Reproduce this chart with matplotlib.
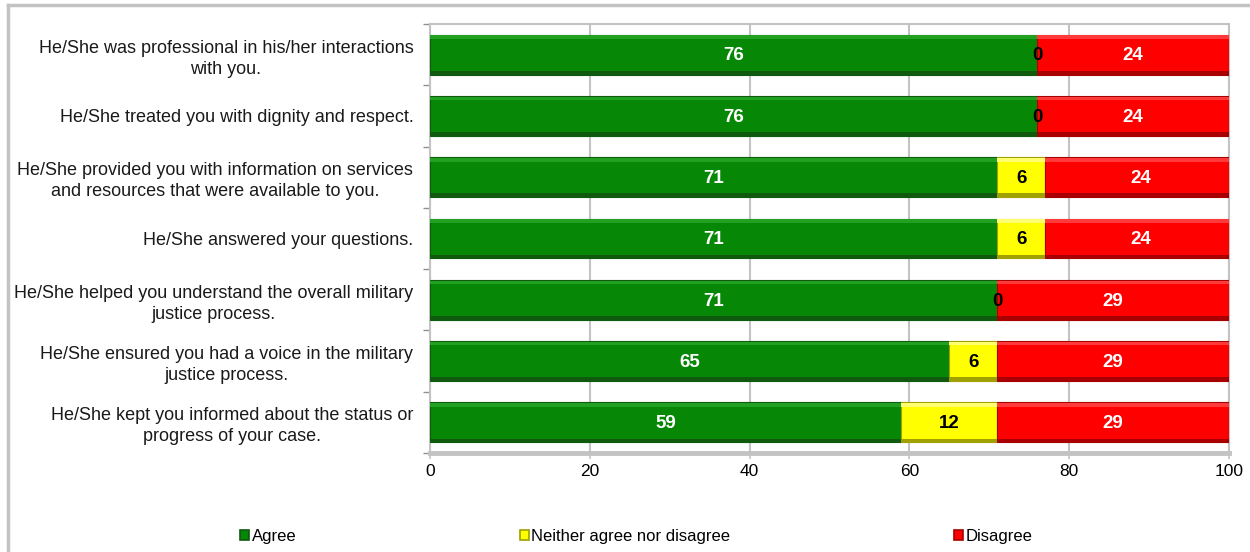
#!/usr/bin/env python3
"""Stacked horizontal bar chart of agree / neither / disagree ratings.

Saves the figure to out.png in the current folder.
"""

from __future__ import annotations

import matplotlib.pyplot as plt
from matplotlib.lines import Line2D
from matplotlib.patches import Patch

plt.rcParams["font.family"] = ["Liberation Sans", "DejaVu Sans"]

# ---------------------------------------------------------------------------
# Data (top row first, as drawn in the chart)
# ---------------------------------------------------------------------------
STATEMENTS = [
    "He/She was professional in his/her interactions\nwith you.",
    "He/She treated you with dignity and respect.",
    "He/She provided you with information on services\nand resources that were available to you.",
    "He/She answered your questions.",
    "He/She helped you understand the overall military\njustice process.",
    "He/She ensured you had a voice in the military\njustice process.",
    "He/She kept you informed about the status or\nprogress of your case.",
]
AGREE = [76, 76, 71, 71, 71, 65, 59]
NEITHER = [0, 0, 6, 6, 0, 6, 12]
DISAGREE = [24, 24, 24, 24, 29, 29, 29]

SERIES_NAMES = ["Agree", "Neither agree nor disagree", "Disagree"]
X_TICKS = [0, 20, 40, 60, 80, 100]

# (main, shadow, highlight, label colour)
STYLES = [
    ("#068806", "#0f5a0f", "#22a022", "white"),
    ("#ffff00", "#a0a000", "#ffff70", "black"),
    ("#ff0000", "#a80000", "#ff3a3a", "white"),
]
GRID_GREY = "#c3c3c3"
BAR_HEIGHT = 0.65


def draw_bevel_bars(ax, y, lefts, widths, style):
    main, shadow, light, _ = style
    ax.barh(y, widths, left=lefts, height=BAR_HEIGHT, color=main,
            edgecolor=shadow, linewidth=0.8, zorder=3)
    # light edge at the top and dark edge at the bottom for the 3D look
    ax.barh([v - BAR_HEIGHT / 2 + 0.04 for v in y], widths, left=lefts,
            height=0.06, color=light, linewidth=0, zorder=4)
    ax.barh([v + BAR_HEIGHT / 2 - 0.03 for v in y], widths, left=lefts,
            height=0.06, color=shadow, linewidth=0, zorder=4)


def make_plot(output_path: str) -> None:
    fig = plt.figure(figsize=(12.5, 5.52), dpi=100)
    ax = fig.add_axes([0.344, 0.1793, 0.6392, 0.7772])

    y = list(range(len(STATEMENTS)))
    lefts_neither = AGREE
    lefts_disagree = [a + n for a, n in zip(AGREE, NEITHER)]
    series = [
        (AGREE, [0] * len(AGREE)),
        (NEITHER, lefts_neither),
        (DISAGREE, lefts_disagree),
    ]

    for (values, lefts), style in zip(series, STYLES):
        draw_bevel_bars(ax, y, lefts, values, style)
        for yi, left, val in zip(y, lefts, values):
            color = style[3] if val > 0 else "black"
            ax.text(left + val / 2, yi + 0.02, f"{val}", ha="center",
                    va="center", fontsize=13.5, fontweight="bold",
                    color=color, zorder=6)

    ax.set_xlim(0, 100)
    ax.set_ylim(len(STATEMENTS) - 0.5, -0.5)
    ax.set_xticks(X_TICKS)
    ax.set_xticklabels([str(t) for t in X_TICKS], fontsize=12.5)
    ax.set_yticks(y)
    ax.set_yticklabels(STATEMENTS, fontsize=13, color="#1a1a1a",
                       linespacing=1.3, multialignment="center")
    ax.tick_params(axis="y", length=0, pad=12)
    ax.tick_params(axis="x", length=4, color=GRID_GREY, width=1.2, pad=4)
    # category separator ticks on the left axis
    ax.set_yticks([v + 0.5 for v in range(-1, len(STATEMENTS))], minor=True)
    ax.tick_params(axis="y", which="minor", length=5, color="#909090",
                   width=1)

    ax.grid(axis="x", color=GRID_GREY, linewidth=1.5, zorder=0)
    ax.set_axisbelow(True)
    for name, spine in ax.spines.items():
        spine.set_color(GRID_GREY)
        spine.set_linewidth(1.5)
    ax.spines["bottom"].set_linewidth(3.5)

    handles = [Patch(facecolor=s[0], edgecolor=s[1], linewidth=1.2)
               for s in STYLES]
    fig.legend(handles, SERIES_NAMES, loc="center",
               bbox_to_anchor=(636 / 1250, 1 - 536 / 552), ncol=3,
               frameon=False, fontsize=12, handlelength=0.55,
               handleheight=0.55, handletextpad=0.15, columnspacing=13.4)

    # outer chart border (top and left edges visible in the crop)
    fig.add_artist(Line2D([8 / 1250, 1], [1 - 5 / 552, 1 - 5 / 552],
                          color=GRID_GREY, linewidth=2.5))
    fig.add_artist(Line2D([8 / 1250, 8 / 1250], [0, 1 - 5 / 552],
                          color=GRID_GREY, linewidth=2.5))

    fig.savefig(output_path, dpi=100)
    plt.close(fig)


def main() -> None:
    make_plot("out.png")


if __name__ == "__main__":
    main()
